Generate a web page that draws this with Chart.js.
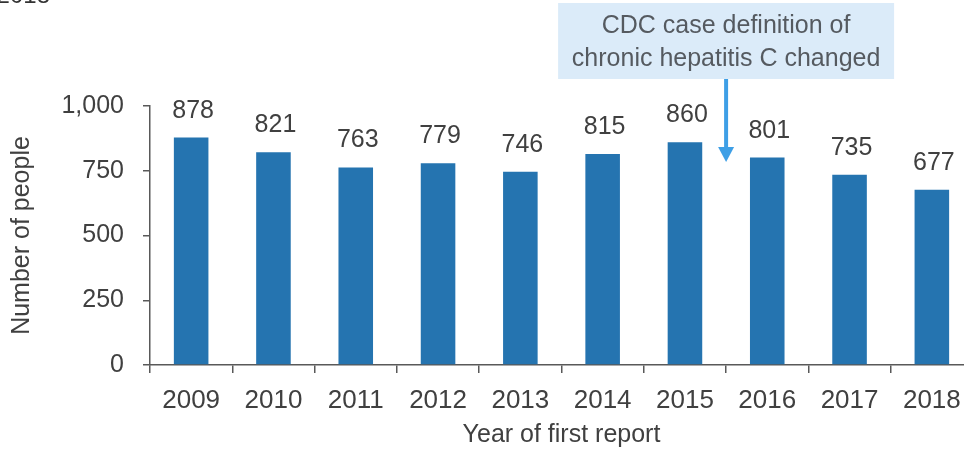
<!DOCTYPE html>
<html>
<head>
<meta charset="utf-8">
<script src="https://cdn.jsdelivr.net/npm/chart.js@4.4.1/dist/chart.umd.min.js"></script>
<style>
  html, body { margin: 0; padding: 0; background: #fff; overflow: hidden; }
  #wrap { position: absolute; left: 0; top: 0; width: 976px; height: 451px; }
</style>
</head>
<body>
<div id="wrap"><canvas id="grafico" width="976" height="451"></canvas></div>
<script>
// dados do gráfico
var anos = ["2009", "2010", "2011", "2012", "2013", "2014", "2015", "2016", "2017", "2018"];
var pessoas = [878, 821, 763, 779, 746, 815, 860, 801, 735, 677];
var yTicks = [0, 250, 500, 750, 1000];
var notaTexto = ["CDC case definition of", "chronic hepatitis C changed"];
var notaPosicao = 6.5; // entre 2015 e 2016

var fonte = "'Liberation Sans', Arial, sans-serif";
var corTexto = "#404040";

// rótulos em cima das barras
var rotulos = {
    id: "rotulos",
    afterDatasetsDraw: function(chart){
        var ctx = chart.ctx;
        var meta = chart.getDatasetMeta(0);
        ctx.save();
        ctx.font = "25px " + fonte;
        ctx.fillStyle = corTexto;
        ctx.textAlign = "center";
        ctx.textBaseline = "alphabetic";
        meta.data.forEach(function(bar, i){
            ctx.fillText(String(pessoas[i]), bar.x + 2, bar.y - 20);
        });
        ctx.restore();
    }
};

// caixa de nota + seta
var nota = {
    id: "nota",
    afterDraw: function(chart){
        var ctx = chart.ctx;
        var x = chart.scales.x.getPixelForValue(notaPosicao);
        ctx.save();
        // pedaço do título cortado no topo
        ctx.font = "24px " + fonte;
        ctx.fillStyle = "#333";
        ctx.textAlign = "right";
        ctx.textBaseline = "alphabetic";
        ctx.fillText("2018", 50, 3);

        ctx.fillStyle = "#dbebf9";
        ctx.fillRect(x - 168, 3, 336, 76);
        ctx.fillStyle = "#555a60";
        ctx.textAlign = "center";
        ctx.textBaseline = "middle";
        ctx.font = "25px " + fonte;
        ctx.fillText(notaTexto[0], x, 26);
        ctx.fillText(notaTexto[1], x, 59);

        ctx.strokeStyle = "#3e9fe6";
        ctx.lineWidth = 4;
        ctx.beginPath();
        ctx.moveTo(x, 79);
        ctx.lineTo(x, 149);
        ctx.stroke();
        ctx.fillStyle = "#3e9fe6";
        ctx.beginPath();
        ctx.moveTo(x - 8, 147);
        ctx.lineTo(x + 8, 147);
        ctx.lineTo(x, 162);
        ctx.closePath();
        ctx.fill();
        ctx.restore();
    }
};

var config = {
    type: "bar",
    data: {
        labels: anos,
        datasets: [{
            label: "Number of people",
            data: pessoas,
            backgroundColor: "#2574b0",
            borderWidth: 0,
            categoryPercentage: 1.0,
            barPercentage: 0.42
        }]
    },
    options: {
        responsive: false,
        animation: false,
        layout: { padding: { top: 106, right: 3, left: 0, bottom: 0 } },
        plugins: {
            legend: { display: false },
            tooltip: { enabled: false }
        },
        scales: {
            x: {
                offset: true,
                grid: {
                    offset: true,
                    drawOnChartArea: false,
                    drawTicks: true,
                    tickLength: 8,
                    color: "#595959",
                    lineWidth: 1.5
                },
                border: { display: true, color: "#595959", width: 1.5 },
                ticks: { color: corTexto, font: { family: fonte, size: 26 }, padding: 12, maxRotation: 0, autoSkip: false },
                title: {
                    display: true,
                    text: "Year of first report",
                    color: corTexto,
                    font: { family: fonte, size: 25 },
                    padding: { top: 0, bottom: 1 }
                },
                afterFit: function(scale){ scale.height = 86; }
            },
            y: {
                min: 0,
                max: 1000,
                afterBuildTicks: function(scale){
                    scale.ticks = yTicks.map(function(v){ return { value: v }; });
                },
                grid: {
                    drawOnChartArea: false,
                    drawTicks: true,
                    tickLength: 7,
                    color: "#595959",
                    lineWidth: 1.5
                },
                border: { display: true, color: "#595959", width: 1.5 },
                ticks: {
                    color: corTexto,
                    font: { family: fonte, size: 25 },
                    padding: 19,
                    callback: function(v){ return v.toLocaleString("en-US"); }
                },
                title: {
                    display: true,
                    text: "Number of people",
                    color: corTexto,
                    font: { family: fonte, size: 25 },
                    padding: { top: 7, bottom: 0 }
                },
                afterFit: function(scale){ scale.width = 150; }
            }
        }
    },
    plugins: [rotulos, nota]
};

var grafico = new Chart(document.getElementById("grafico"), config);
</script>
</body>
</html>
